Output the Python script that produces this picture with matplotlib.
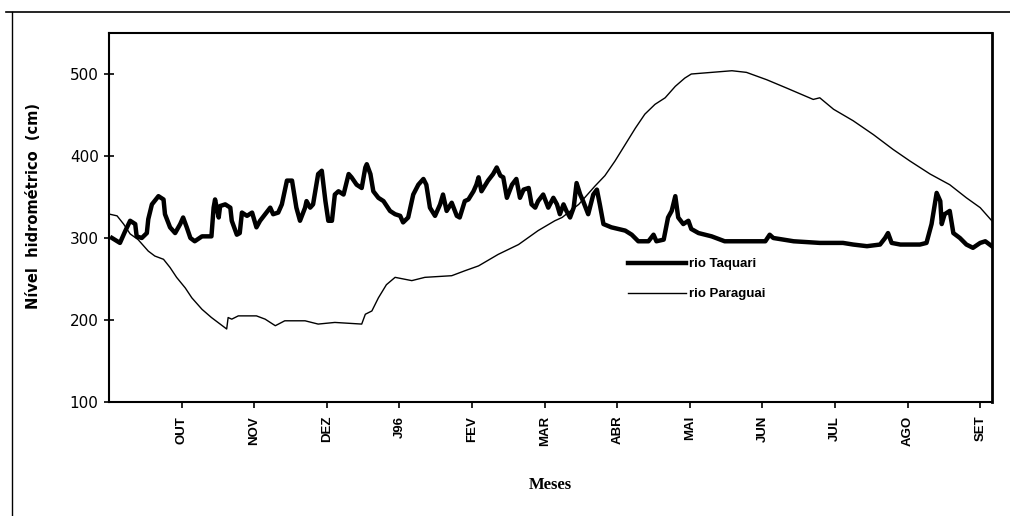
import matplotlib.pyplot as plt
from matplotlib.lines import Line2D

# month positions (0 = start of SET/95) and water level (cm)
taquari_t = [0.04, 0.15, 0.22, 0.29, 0.36, 0.38, 0.45, 0.52, 0.54, 0.59, 0.68, 0.75, 0.77, 0.84, 0.91,
             0.98, 1.02, 1.07, 1.12, 1.18, 1.28, 1.41, 1.44, 1.46, 1.51, 1.53, 1.60, 1.67, 1.69, 1.76,
             1.80, 1.83, 1.90, 1.97, 2.03, 2.08, 2.15, 2.22, 2.26, 2.33, 2.38, 2.45, 2.52, 2.58, 2.63,
             2.70, 2.72, 2.77, 2.81, 2.88, 2.93, 2.98, 3.02, 3.07, 3.11, 3.16, 3.23, 3.30, 3.34, 3.41,
             3.48, 3.53, 3.55, 3.60, 3.64, 3.71, 3.78, 3.87, 3.94, 4.01, 4.05, 4.12, 4.19, 4.26, 4.33,
             4.37, 4.42, 4.49, 4.56, 4.60, 4.65, 4.72, 4.79, 4.83, 4.90, 4.95, 5.02, 5.06, 5.09, 5.13,
             5.22, 5.29, 5.34, 5.39, 5.43, 5.48, 5.55, 5.61, 5.66, 5.71, 5.78, 5.82, 5.87, 5.91, 5.98,
             6.05, 6.12, 6.17, 6.21, 6.26, 6.30, 6.35, 6.40, 6.44, 6.49, 6.53, 6.60, 6.67, 6.72, 6.76,
             6.81, 6.92, 7.11, 7.20, 7.29, 7.43, 7.50, 7.54, 7.64, 7.70, 7.75, 7.80, 7.84, 7.91, 7.98,
             8.02, 8.12, 8.30, 8.48, 8.76, 9.04, 9.10, 9.15, 9.43, 9.79, 10.11, 10.25, 10.44, 10.62,
             10.69, 10.73, 10.78, 10.90, 11.17, 11.26, 11.33, 11.40, 11.45, 11.47, 11.51, 11.58,
             11.63, 11.72, 11.81, 11.90, 12.00, 12.07, 12.16]
taquari_v = [300, 294, 308, 321, 317, 302, 300, 306, 323, 341, 351, 347, 329, 313, 306,
             317, 325, 313, 300, 296, 302, 302, 337, 347, 325, 339, 341, 337, 321, 304,
             306, 331, 327, 331, 313, 321, 329, 337, 329, 331, 341, 370, 370, 337, 321,
             337, 345, 337, 341, 378, 382, 345, 321, 321, 353, 357, 353, 378, 374, 365,
             361, 386, 390, 378, 357, 349, 345, 333, 329, 327, 319, 325, 353, 365, 372,
             365, 337, 327, 341, 353, 333, 343, 327, 325, 345, 347, 357, 365, 374, 357,
             370, 378, 386, 376, 374, 349, 365, 372, 349, 359, 361, 341, 337, 345, 353,
             337, 349, 341, 329, 341, 333, 325, 337, 367, 353, 345, 329, 353, 359, 341,
             317, 313, 309, 304, 296, 296, 304, 296, 298, 325, 333, 351, 325, 317, 321,
             311, 306, 302, 296, 296, 296, 304, 300, 296, 294, 294, 292, 290, 292,
             300, 306, 294, 292, 292, 294, 317, 355, 345, 317, 329, 333,
             306, 300, 292, 288, 294, 296, 290]

paraguai_t = [0.01, 0.11, 0.20, 0.29, 0.40, 0.54, 0.63, 0.75, 0.84, 0.93, 1.05, 1.14, 1.28, 1.41,
              1.53, 1.62, 1.64, 1.69, 1.78, 1.92, 2.03, 2.15, 2.29, 2.42, 2.70, 2.88, 3.11, 3.48,
              3.53, 3.62, 3.71, 3.82, 3.94, 4.17, 4.35, 4.72, 4.90, 5.09, 5.36, 5.64, 5.91, 6.14,
              6.24, 6.47, 6.69, 6.83, 6.97, 7.11, 7.25, 7.38, 7.52, 7.66, 7.80, 7.93, 8.02, 8.30,
              8.58, 8.78, 9.06, 9.33, 9.70, 9.79, 9.98, 10.25, 10.53, 10.80, 11.03, 11.31, 11.58,
              11.81, 12.00, 12.16]
paraguai_v = [329, 327, 317, 305, 298, 284, 278, 274, 264, 252, 239, 227, 213, 203,
              195, 189, 203, 201, 205, 205, 205, 201, 193, 199, 199, 195, 197, 195,
              207, 211, 227, 243, 252, 248, 252, 254, 260, 266, 280, 292, 309, 321,
              325, 341, 363, 376, 394, 414, 434, 451, 463, 471, 485, 495, 500, 502,
              504, 502, 493, 483, 469, 471, 457, 443, 426, 408, 394, 378, 365,
              349, 337, 321]

month_ticks = [1, 2, 3, 4, 5, 6, 7, 8, 9, 10, 11, 12]
month_labels = ["OUT", "NOV", "DEZ", "J96", "FEV", "MAR", "ABR", "MAI", "JUN", "JUL", "AGO", "SET"]
y_ticks = [100, 200, 300, 400, 500]

fig = plt.figure(figsize=(10.1, 5.16), dpi=100)
ax = fig.add_axes([0.108, 0.221, 0.874, 0.715])

ax.plot(taquari_t, taquari_v, color="black", lw=3.2, solid_joinstyle="round", label="rio Taquari")
ax.plot(paraguai_t, paraguai_v, color="black", lw=1.0, label="rio Paraguai")

ax.set_xlim(0, 12.16)
ax.set_ylim(100, 550)
ax.set_xticks(month_ticks)
ax.set_xticklabels(month_labels, rotation=90, fontsize=9.5, fontweight="bold", family="Liberation Sans")
ax.set_yticks(y_ticks)
ax.set_yticklabels([str(v) for v in y_ticks], fontsize=11, family="DejaVu Sans")
ax.tick_params(axis="y", direction="inout", length=7, width=1.2, pad=4)
ax.tick_params(axis="x", direction="out", length=4, width=1.2, pad=6)
for s in ax.spines.values():
    s.set_linewidth(1.5)
ax.spines["right"].set_linewidth(2)

ax.set_ylabel("Nível  hidrométrico  (cm)", fontsize=10.5, fontweight="bold", labelpad=20)
ax.yaxis.set_label_coords(-0.077, 0.53)
ax.set_xlabel("Meses", fontsize=12, fontweight="bold", family="Liberation Serif", labelpad=22)

ax.legend(loc="upper left", bbox_to_anchor=(628 / 1010, 1 - 258 / 516), bbox_transform=fig.transFigure,
          frameon=False, handlelength=4.4, handletextpad=0.2, labelspacing=1.35, borderpad=0,
          borderaxespad=0, prop={"family": "Liberation Sans", "weight": "bold", "size": 9.5})

# outer frame of the scanned page
fig.add_artist(Line2D([0.006, 1.0], [0.976, 0.976], color="black", lw=1.2))
fig.add_artist(Line2D([0.012, 0.012], [0.0, 0.976], color="black", lw=1.0))

fig.savefig("out.png", dpi=100)
